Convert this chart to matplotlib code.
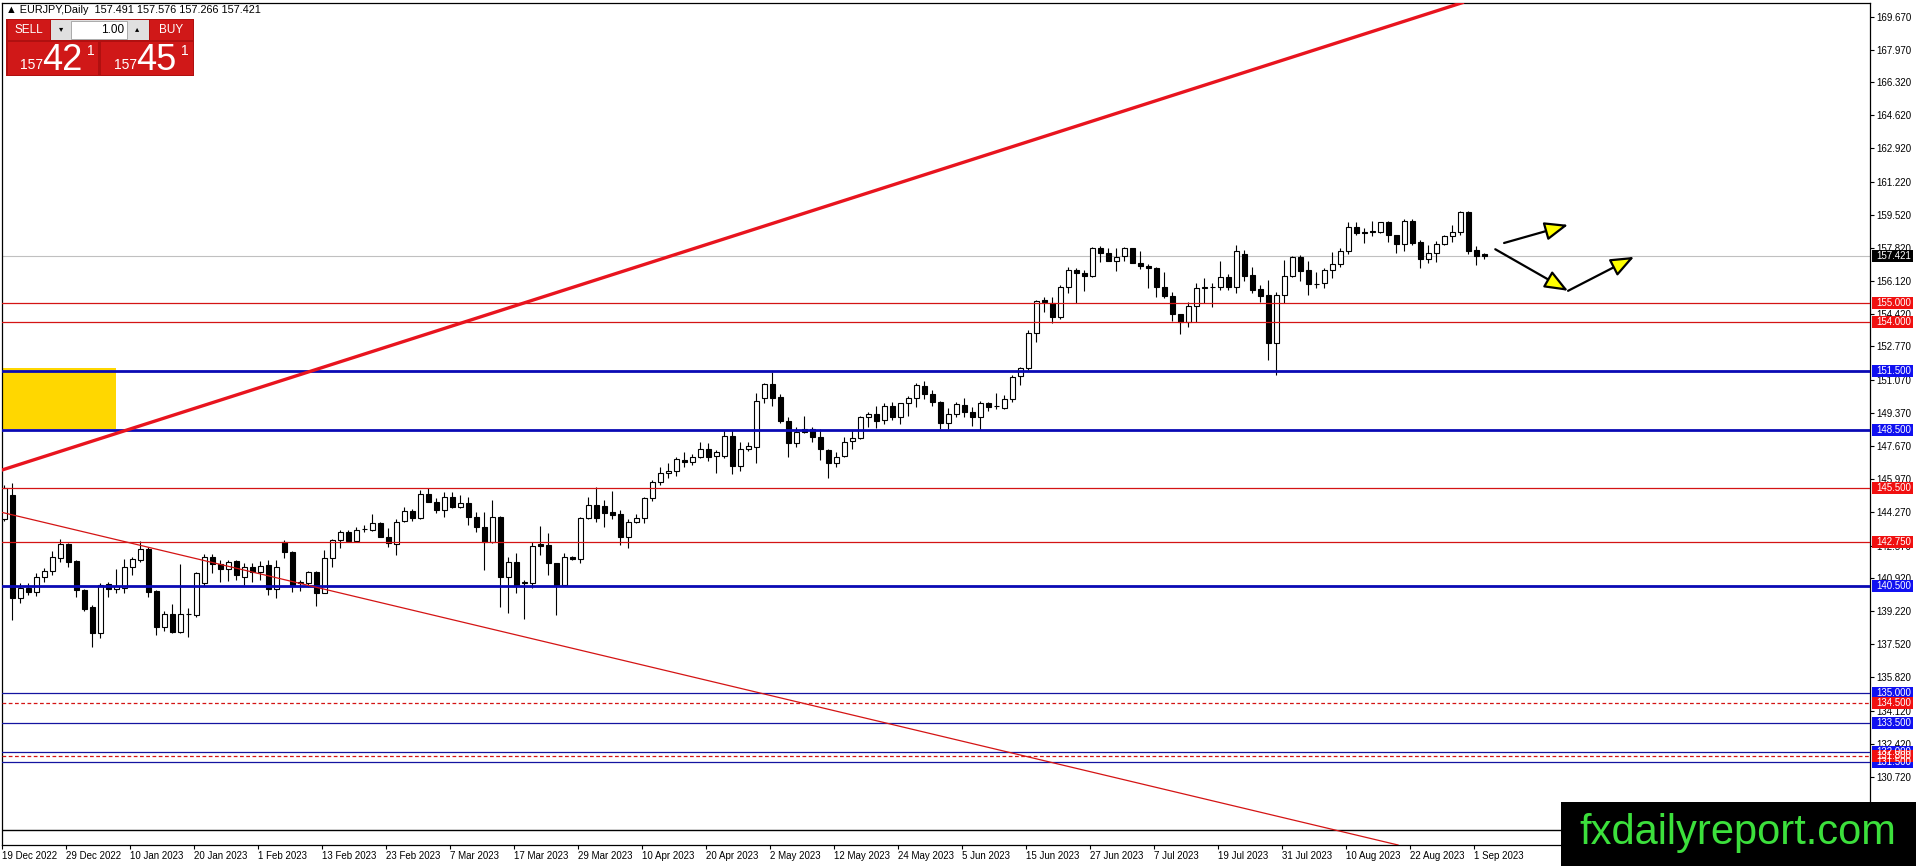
import matplotlib
matplotlib.use('Agg')
import matplotlib.pyplot as plt
from matplotlib.patches import Rectangle
import numpy as np

plt.rcParams['font.family'] = ['Liberation Sans', 'DejaVu Sans']

# ---- data (EURJPY daily, 19 Dec 2022 .. 4 Sep 2023) ----
date_labels = ['19 Dec 2022', '29 Dec 2022', '10 Jan 2023', '20 Jan 2023', '1 Feb 2023',
               '13 Feb 2023', '23 Feb 2023', '7 Mar 2023', '17 Mar 2023', '29 Mar 2023',
               '10 Apr 2023', '20 Apr 2023', '2 May 2023', '12 May 2023', '24 May 2023',
               '5 Jun 2023', '15 Jun 2023', '27 Jun 2023', '7 Jul 2023', '19 Jul 2023',
               '31 Jul 2023', '10 Aug 2023', '22 Aug 2023', '1 Sep 2023']

ohlc = [
    (143.91, 145.68, 143.85, 145.50), (145.16, 145.76, 138.76, 139.87), (139.87, 140.64, 139.61, 140.38),
    (140.38, 140.64, 140.04, 140.17), (140.17, 141.18, 140.00, 140.94), (140.94, 141.44, 140.72, 141.27),
    (141.27, 142.29, 141.06, 141.97), (141.92, 142.89, 141.75, 142.65), (142.65, 142.70, 141.49, 141.75),
    (141.80, 141.85, 139.92, 140.30), (140.30, 140.35, 139.24, 139.30), (139.44, 139.50, 137.36, 138.11),
    (138.11, 140.67, 137.82, 140.55), (140.59, 140.72, 139.92, 140.33), (140.33, 141.35, 140.12, 140.50),
    (140.38, 141.87, 140.12, 141.46), (141.46, 142.00, 141.06, 141.88), (141.83, 142.80, 141.75, 142.40),
    (142.40, 142.52, 139.96, 140.21), (140.24, 140.30, 137.99, 138.38), (138.38, 139.24, 138.21, 139.05),
    (139.05, 139.58, 138.11, 138.16), (138.16, 141.63, 138.10, 139.05), (139.05, 139.35, 137.87, 139.08),
    (139.01, 141.20, 138.93, 141.15), (140.64, 142.14, 140.50, 141.97), (141.97, 142.14, 141.18, 141.63),
    (141.63, 141.83, 140.72, 141.35), (141.35, 141.83, 140.77, 141.75), (141.78, 141.83, 140.81, 141.06),
    (140.98, 141.66, 140.55, 141.46), (141.46, 141.66, 140.72, 141.24), (141.24, 141.78, 140.81, 141.52),
    (141.57, 141.83, 140.04, 140.33), (140.33, 141.83, 139.87, 141.49), (142.77, 142.83, 141.92, 142.22),
    (142.22, 142.31, 140.21, 140.55), (140.67, 140.81, 140.26, 140.70), (140.67, 141.29, 140.47, 141.20),
    (141.20, 141.25, 139.48, 140.16), (140.16, 142.34, 140.12, 141.92), (141.92, 142.90, 141.46, 142.84),
    (142.86, 143.37, 142.43, 143.28), (143.28, 143.37, 142.77, 142.80), (142.82, 143.54, 142.78, 143.37),
    (143.40, 143.63, 143.28, 143.43), (143.37, 144.17, 143.33, 143.71), (143.74, 143.80, 142.99, 143.03),
    (143.03, 143.46, 142.48, 142.69), (142.65, 143.92, 142.09, 143.80), (143.85, 144.53, 143.80, 144.36),
    (144.36, 144.43, 143.85, 143.97), (143.97, 145.42, 143.93, 145.20), (145.20, 145.50, 144.78, 144.82),
    (144.82, 144.99, 144.22, 144.39), (144.39, 145.33, 144.05, 145.04), (145.04, 145.33, 144.50, 144.56),
    (144.56, 145.16, 144.48, 144.73), (144.73, 145.04, 143.63, 144.02), (144.02, 144.31, 143.28, 143.54),
    (143.54, 144.31, 141.32, 142.77), (142.77, 144.91, 142.70, 144.02), (144.02, 144.10, 139.41, 140.98),
    (140.98, 141.97, 139.10, 141.75), (141.75, 142.21, 140.12, 140.55), (140.67, 140.81, 138.79, 140.70),
    (140.67, 142.77, 140.38, 142.55), (142.65, 143.57, 142.09, 142.55), (142.60, 143.20, 141.06, 141.66),
    (141.66, 141.70, 139.01, 140.55), (140.55, 142.17, 140.50, 141.97), (141.97, 142.04, 141.83, 141.87),
    (141.87, 144.02, 141.70, 143.97), (143.97, 145.08, 143.92, 144.65), (144.65, 145.59, 143.80, 143.97),
    (144.60, 144.91, 143.54, 144.26), (144.28, 145.39, 143.92, 144.14), (144.19, 144.40, 142.60, 143.03),
    (143.03, 143.92, 142.47, 143.80), (143.80, 144.17, 143.75, 144.00), (143.97, 145.08, 143.75, 144.99),
    (144.99, 145.93, 144.87, 145.81), (145.81, 146.58, 145.68, 146.27), (146.27, 146.82, 146.02, 146.39),
    (146.39, 147.12, 146.15, 146.99), (146.96, 147.38, 146.58, 146.84), (146.84, 147.27, 146.70, 147.09),
    (147.09, 147.85, 147.08, 147.50), (147.50, 147.81, 146.92, 147.12), (147.16, 147.47, 146.31, 147.35),
    (147.16, 148.49, 147.04, 148.19), (148.19, 148.49, 146.22, 146.65), (146.65, 147.85, 146.39, 147.50),
    (147.52, 147.89, 147.42, 147.69), (147.64, 150.37, 146.82, 150.00), (150.12, 150.92, 149.89, 150.83),
    (150.83, 151.48, 149.72, 150.15), (150.20, 150.34, 148.83, 148.97), (148.97, 149.14, 147.09, 147.81),
    (147.81, 148.66, 147.61, 148.41), (148.55, 149.21, 148.36, 148.41), (148.55, 148.63, 147.85, 148.15),
    (148.12, 148.53, 146.96, 147.50), (147.47, 147.50, 146.05, 146.79), (146.79, 147.38, 146.58, 147.13),
    (147.16, 148.12, 147.13, 147.89), (147.93, 148.49, 147.52, 148.07), (148.07, 149.21, 148.02, 149.14),
    (149.18, 149.40, 148.66, 149.31), (149.31, 149.74, 148.61, 148.97), (149.00, 149.86, 148.80, 149.74),
    (149.74, 149.94, 149.00, 149.18), (149.18, 149.86, 148.80, 149.86), (149.86, 150.25, 149.21, 150.12),
    (150.12, 150.92, 149.69, 150.80), (150.75, 151.00, 150.06, 150.32), (150.32, 150.54, 149.74, 149.94),
    (149.94, 150.00, 148.53, 148.83), (148.83, 149.60, 148.53, 149.30), (149.30, 149.94, 149.18, 149.81),
    (149.77, 150.12, 149.14, 149.43), (149.43, 149.69, 148.72, 149.18), (149.18, 149.98, 148.49, 149.86),
    (149.86, 149.94, 149.48, 149.69), (149.74, 150.37, 149.55, 149.72), (149.64, 150.29, 149.55, 150.06),
    (150.06, 151.31, 149.94, 151.22), (151.26, 151.74, 150.80, 151.65), (151.65, 153.62, 151.57, 153.45),
    (153.45, 155.15, 153.02, 155.12), (155.15, 155.32, 154.56, 155.03), (154.98, 155.32, 153.99, 154.30),
    (154.30, 155.92, 154.16, 155.80), (155.80, 156.86, 155.53, 156.69), (156.69, 156.78, 154.98, 156.52),
    (156.52, 156.69, 155.63, 156.40), (156.40, 157.85, 156.31, 157.80), (157.80, 157.92, 157.12, 157.58),
    (157.58, 157.80, 157.17, 157.17), (157.17, 157.80, 156.61, 157.37), (157.42, 157.85, 157.17, 157.80),
    (157.80, 157.80, 157.03, 157.07), (157.07, 157.68, 156.73, 156.90), (156.90, 157.00, 155.75, 156.78),
    (156.78, 156.83, 155.29, 155.80), (155.80, 156.57, 155.24, 155.33), (155.33, 155.58, 154.09, 154.42),
    (154.42, 154.42, 153.40, 154.04), (154.04, 155.07, 153.79, 154.86), (154.86, 156.04, 154.04, 155.75),
    (155.77, 156.26, 154.98, 155.81), (155.80, 156.04, 154.78, 155.82), (155.80, 157.17, 155.67, 156.31),
    (156.31, 156.48, 155.67, 155.80), (155.80, 157.97, 155.50, 157.68), (157.49, 157.71, 156.14, 156.40),
    (156.43, 156.86, 155.53, 155.67), (155.70, 155.92, 155.07, 155.36), (155.41, 156.18, 152.08, 152.97),
    (152.97, 155.58, 151.31, 155.41), (155.41, 157.20, 155.02, 156.38), (156.38, 157.41, 156.31, 157.34),
    (157.34, 157.46, 156.14, 156.66), (156.69, 157.17, 155.41, 155.96), (155.96, 156.57, 155.75, 155.98),
    (156.01, 156.78, 155.75, 156.69), (156.69, 157.63, 156.26, 156.99), (156.99, 157.80, 156.86, 157.68),
    (157.68, 159.17, 157.51, 158.88), (158.88, 159.17, 158.48, 158.57), (158.65, 158.83, 158.09, 158.57),
    (158.69, 159.22, 158.43, 158.62), (158.65, 159.17, 158.57, 159.13), (159.13, 159.22, 158.14, 158.48),
    (158.48, 158.48, 157.58, 158.02), (158.02, 159.29, 157.68, 159.22), (159.22, 159.29, 157.97, 158.09),
    (158.14, 158.23, 156.78, 157.24), (157.24, 157.97, 157.03, 157.54), (157.54, 158.19, 157.12, 158.02),
    (158.02, 158.48, 157.97, 158.43), (158.43, 158.99, 158.14, 158.64), (158.64, 159.73, 158.48, 159.66),
    (159.66, 159.70, 157.51, 157.68), (157.71, 157.92, 156.95, 157.41), (157.491, 157.576, 157.266, 157.421),
]
opens = [r[0] for r in ohlc]
highs = [r[1] for r in ohlc]
lows = [r[2] for r in ohlc]
closes = [r[3] for r in ohlc]

y_ticks = [169.670, 167.970, 166.320, 164.620, 162.920, 161.220, 159.520, 157.820, 156.120,
           154.420, 152.770, 151.070, 149.370, 147.670, 145.970, 144.270, 142.570, 140.920,
           139.220, 137.520, 135.820, 134.120, 132.420, 130.720]

red_levels = [155.0, 154.0, 145.5, 142.75]
blue_levels = [151.5, 148.5, 140.5]
thin_blue_levels = [135.0, 133.5, 132.0, 131.5]
dashed_red_levels = [134.5, 131.8]
black_level = 128.0
last_price = 157.421

# trend lines (bar index, price) anchor pairs
up_trend = [(0, 146.48), (80, 156.97)]
down_trend = [(0, 144.24), (80, 136.43)]
zone_bars = (-2, 13.9)
zone_prices = (148.55, 151.67)
arrows = [((187.5, 158.07), (195.5, 159.0)),
          ((186.4, 157.75), (195.5, 155.62)),
          ((195.5, 155.62), (203.75, 157.36))]

# ---- figure ----
W, H = 1916, 866
fig = plt.figure(figsize=(W / 100, H / 100), dpi=100)
ax = fig.add_axes([2 / W, 1 - 845 / H, 1868 / W, (845 - 2.7) / H])
ax.set_xlim(-0.25, 233.25)
ax.set_ylim(127.23, 170.38)

x = np.arange(len(opens))
o = np.array(opens); c = np.array(closes)
ax.vlines(x, lows, highs, color='black', linewidth=0.8, zorder=3)
up = c >= o
body_lo = np.minimum(o, c)
body_h = np.maximum(np.abs(c - o), 0.015)
ax.bar(x[up], body_h[up], bottom=body_lo[up], width=0.62, color='white',
       edgecolor='black', linewidth=0.8, zorder=4)
ax.bar(x[~up], body_h[~up], bottom=body_lo[~up], width=0.62, color='black',
       edgecolor='black', linewidth=0.8, zorder=4)

# zone and lines
ax.add_patch(Rectangle((zone_bars[0], zone_prices[0]), zone_bars[1] - zone_bars[0],
                       zone_prices[1] - zone_prices[0], color='#FFD700', zorder=1, lw=0))
ax.axhline(last_price, color='#C0C0C0', lw=0.8, zorder=2)
for p in red_levels:
    ax.axhline(p, color='#D41414', lw=0.9, zorder=5)
for p in blue_levels:
    ax.axhline(p, color='#0A0AB4', lw=2.0, zorder=5)
for p in thin_blue_levels:
    ax.axhline(p, color='#1414A0', lw=0.9, zorder=5)
for p in dashed_red_levels:
    ax.axhline(p, color='#D41414', lw=0.9, ls=(0, (3, 2)), zorder=5)
ax.axhline(black_level, color='black', lw=1.0, zorder=5)
ax.axline(up_trend[0], up_trend[1], color='#E8141E', lw=2.4, zorder=6)
ax.axline(down_trend[0], down_trend[1], color='#D41414', lw=0.9, zorder=6)

for start, end in arrows:
    ax.annotate('', xy=end, xytext=start,
                arrowprops=dict(arrowstyle='-|>,head_length=0.95,head_width=0.38', fc='#FFFF00',
                                ec='black', lw=1.6, shrinkA=0, shrinkB=0, mutation_scale=15),
                zorder=7)

# axes styling
for s in ax.spines.values():
    s.set_color('black'); s.set_linewidth(0.9)
ax.yaxis.tick_right()
ax.set_yticks(y_ticks)
ax.set_yticklabels(['%.3f' % v for v in y_ticks])
ax.tick_params(axis='y', direction='out', length=3, width=0.8, pad=1.5, labelsize=7)
ax.set_xticks(np.arange(0, len(date_labels) * 8, 8) - 0.3)
ax.set_xticklabels(date_labels, ha='left')
ax.tick_params(axis='x', direction='out', length=3, width=0.8, pad=1.5, labelsize=7)

# price boxes on the scale
ytr = ax.get_yaxis_transform()
def price_box(p, bg):
    ax.add_patch(Rectangle((1.0011, p - 0.31), 0.022, 0.62, transform=ytr, color=bg,
                           clip_on=False, zorder=8, lw=0))
    ax.text(1.0035, p, '%.3f' % p, transform=ytr, color='white', fontsize=7,
            va='center', ha='left', clip_on=False, zorder=9)

for p in red_levels:
    price_box(p, '#F01010')
for p in blue_levels + thin_blue_levels:
    price_box(p, '#1010F0')
for p in dashed_red_levels:
    price_box(p, '#F01010')
price_box(last_price, 'black')

# ---- overlay in pixel coordinates: header, trade panel, watermark ----
ov = fig.add_axes([0, 0, 1, 1], zorder=10)
ov.set_xlim(0, W); ov.set_ylim(H, 0); ov.axis('off')

ov.text(6, 10, '\u25b2 EURJPY,Daily  %.3f %.3f %.3f %.3f' % (opens[-1], highs[-1], lows[-1], closes[-1]),
        fontsize=7.8, va='center', ha='left')

red = '#D01818'
ov.add_patch(Rectangle((6, 19), 188, 57, color='#B01010', lw=0))
ov.add_patch(Rectangle((8, 20), 42, 20, color=red, lw=0))
ov.text(29, 30, 'SELL', color='white', fontsize=8.5, ha='center', va='center')
ov.add_patch(Rectangle((51, 20), 98, 20, color='#E0E0E0', lw=0))
ov.add_patch(Rectangle((71, 21), 56, 18, facecolor='white', edgecolor='#A0A0A0', lw=0.6))
ov.text(61, 30, '\u25be', fontsize=6, ha='center', va='center', color='black')
ov.text(137, 30, '\u25b4', fontsize=6, ha='center', va='center', color='black')
ov.text(124, 30, '1.00', fontsize=8.5, ha='right', va='center', color='black')
ov.add_patch(Rectangle((150, 20), 43, 20, color=red, lw=0))
ov.text(171, 30, 'BUY', color='white', fontsize=8.5, ha='center', va='center')
ov.add_patch(Rectangle((8, 42), 90, 33, color=red, lw=0))
ov.add_patch(Rectangle((101, 42), 92, 33, color=red, lw=0))
for x0, big in ((20, '42'), (114, '45')):
    ov.text(x0, 69, '157', color='white', fontsize=10, ha='left', va='baseline')
    ov.text(x0 + 22, 70, big, color='white', fontsize=26, ha='left', va='baseline')
    ov.text(x0 + 67, 55, '1', color='white', fontsize=10, ha='left', va='baseline')

ov.add_patch(Rectangle((1561, 802), 355, 64, color='black', lw=0))
ov.text(1738, 833, 'fxdailyreport.com', color='#3CE03C', fontsize=30, ha='center', va='center')

fig.savefig('out.png', dpi=100)
